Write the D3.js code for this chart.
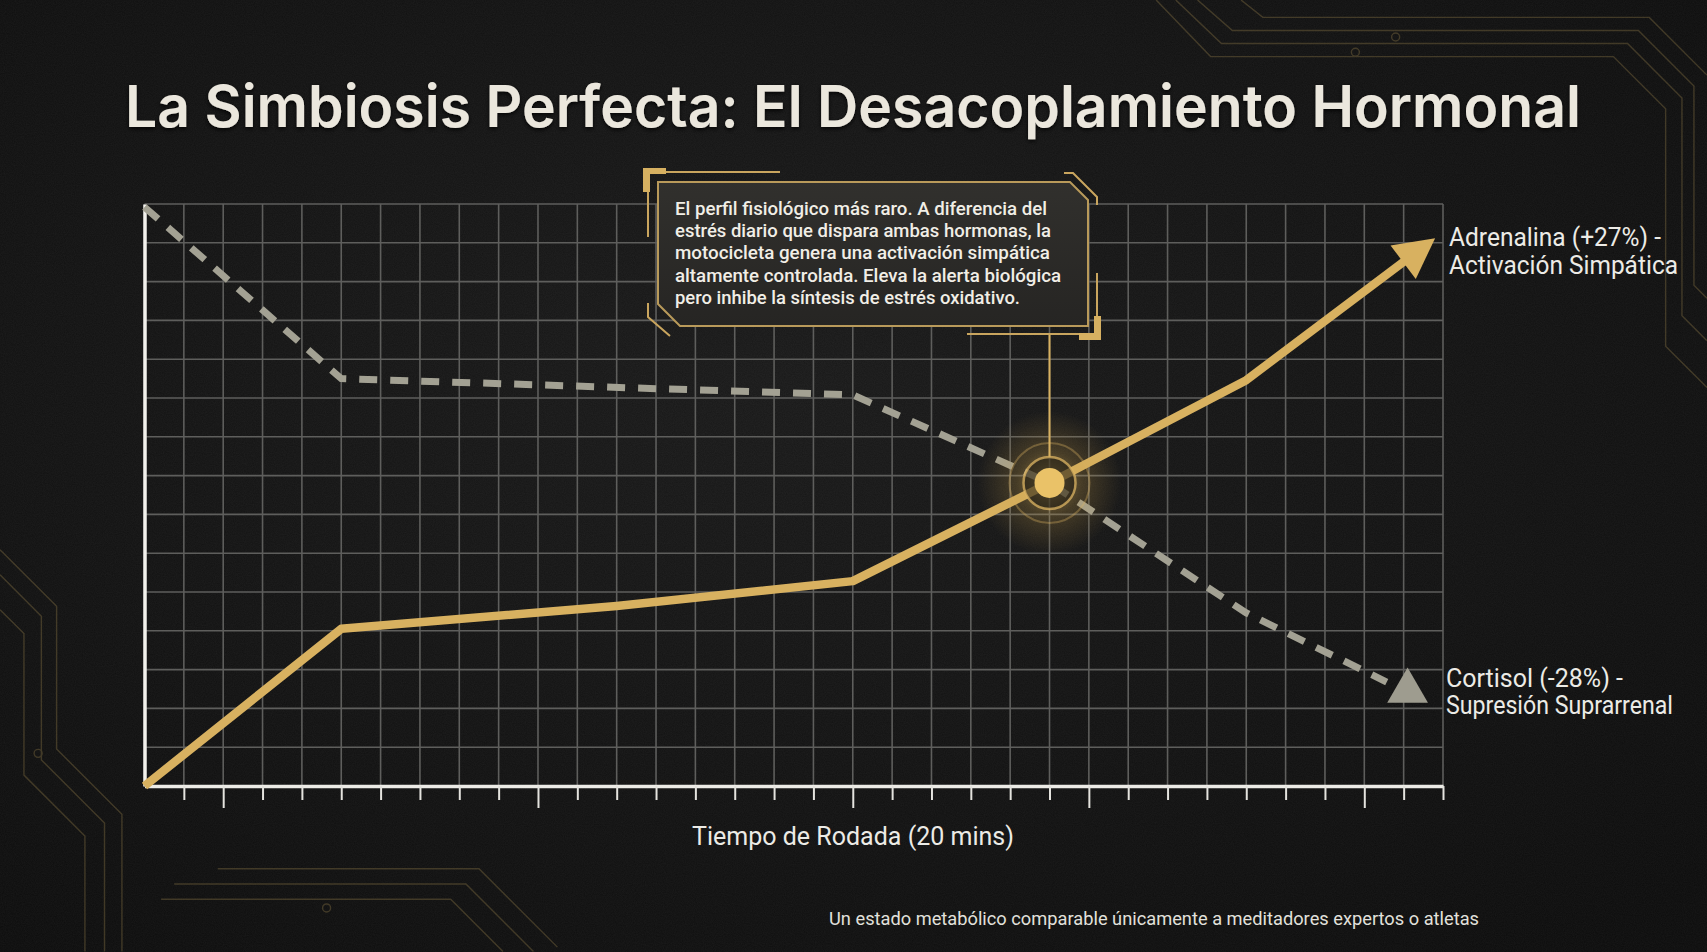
<!DOCTYPE html>
<html>
<head>
<meta charset="utf-8">
<script src="https://cdn.jsdelivr.net/npm/d3@7"></script>
<style>
  html, body { margin: 0; padding: 0; background: #111111; overflow: hidden; }
  svg { display: block; }
</style>
</head>
<body>
<svg id="chart"></svg>
<script>
const W = 1707, H = 952;

// x in time steps (33 steps across the 20 min ride), y in grid levels (0-15)
const xTicks = d3.range(1, 34);
const majorTicks = [2, 10, 18, 24, 31];
const gridCols = d3.range(0, 34);
const gridRows = d3.range(0, 16);

const adrenalinaX = [0, 5, 12, 18, 23, 28, 32.8];
const adrenalinaY = [0, 4.05, 4.64, 5.28, 7.81, 10.46, 14.12];
const cortisolX = [0, 5, 18, 23, 28, 31.57];
const cortisolY = [14.92, 10.5, 10.08, 7.81, 4.46, 2.68];
const cortisolTip = [32.1, 2.45];
const crossing = [23, 7.81];

const title = "La Simbiosis Perfecta: El Desacoplamiento Hormonal";
const xLabel = "Tiempo de Rodada (20 mins)";
const noteLines = [
  "El perfil fisiológico más raro. A diferencia del",
  "estrés diario que dispara ambas hormonas, la",
  "motocicleta genera una activación simpática",
  "altamente controlada. Eleva la alerta biológica",
  "pero inhibe la síntesis de estrés oxidativo."
];
const adrLabel = ["Adrenalina (+27%) -", "Activación Simpática"];
const corLabel = ["Cortisol (-28%) -", "Supresión Suprarrenal"];
const footnote = "Un estado metabólico comparable únicamente a meditadores expertos o atletas";

const gold = "#d8b160";
const grey = "#a3a193";

const svg = d3.select("#chart").attr("width", W).attr("height", H);
const defs = svg.append("defs");

// background
const bg = defs.append("radialGradient").attr("id", "bg")
  .attr("cx", "45%").attr("cy", "40%").attr("r", "75%");
bg.append("stop").attr("offset", "0%").attr("stop-color", "#191919");
bg.append("stop").attr("offset", "100%").attr("stop-color", "#0c0c0c");

const noise = defs.append("filter").attr("id", "noise");
noise.append("feTurbulence").attr("type", "fractalNoise")
  .attr("baseFrequency", 0.9).attr("numOctaves", 2).attr("seed", 3);
noise.append("feColorMatrix").attr("type", "matrix")
  .attr("values", "0 0 0 0 1  0 0 0 0 1  0 0 0 0 1  0 0 0 0.05 0");

const glow = defs.append("radialGradient").attr("id", "glow");
glow.append("stop").attr("offset", "0%").attr("stop-color", "#f0c566").attr("stop-opacity", 0.6);
glow.append("stop").attr("offset", "45%").attr("stop-color", "#c9a04a").attr("stop-opacity", 0.25);
glow.append("stop").attr("offset", "100%").attr("stop-color", "#c9a04a").attr("stop-opacity", 0);

const boxFill = defs.append("linearGradient").attr("id", "boxFill")
  .attr("x1", 0).attr("y1", 0).attr("x2", 0).attr("y2", 1);
boxFill.append("stop").attr("offset", "0%").attr("stop-color", "#31302d");
boxFill.append("stop").attr("offset", "100%").attr("stop-color", "#262523");

const shadow = defs.append("filter").attr("id", "shadow")
  .attr("x", "-5%").attr("y", "-20%").attr("width", "110%").attr("height", "140%");
shadow.append("feDropShadow").attr("dx", 0).attr("dy", 2).attr("stdDeviation", 2)
  .attr("flood-color", "#000").attr("flood-opacity", 0.8);

svg.append("rect").attr("width", W).attr("height", H).attr("fill", "url(#bg)");
svg.append("rect").attr("width", W).attr("height", H).attr("filter", "url(#noise)");

// circuit decorations (drawn in 1568-wide design units)
const S = W / 1568;
const circuits = [
  [[1080,0],[1122,40],[1495,40],[1545,90],[1545,290],[1568,313]],
  [[1100,0],[1132,28],[1505,28],[1556,79],[1556,262],[1568,274]],
  [[1062,0],[1112,52],[1482,52],[1530,100],[1530,318],[1568,356]],
  [[1140,0],[1160,16],[1515,16],[1568,69]],
  [[0,505],[52,557],[52,688],[112,748],[112,874]],
  [[0,528],[38,566],[38,698],[96,756],[96,874]],
  [[0,560],[22,582],[22,712],[78,768],[78,874]],
  [[160,812],[428,812],[490,874]],
  [[148,826],[414,826],[462,874]],
  [[200,798],[440,798],[512,870]]
];
const deco = svg.append("g").attr("fill", "none").attr("stroke", "#8c7746")
  .attr("stroke-width", 1.4).attr("opacity", 0.38);
deco.selectAll("path").data(circuits).join("path")
  .attr("d", d => d3.line()(d.map(p => [p[0] * S, p[1] * S])));
deco.selectAll("circle").data([[1245,48],[1282,34],[35,692],[300,834]]).join("circle")
  .attr("cx", d => d[0] * S).attr("cy", d => d[1] * S).attr("r", 4);

// scales
const x = d3.scaleLinear().domain([0, 33]).range([144.5, 1443]);
const y = d3.scaleLinear().domain([0, 15]).range([786, 204]);

// grid
const grid = svg.append("g").attr("stroke", "#5e5e5c").attr("stroke-width", 1.6);
grid.selectAll(".gx").data(gridCols).join("line").attr("class", "gx")
  .attr("x1", d => x(d)).attr("x2", d => x(d)).attr("y1", y(0)).attr("y2", y(15));
grid.selectAll(".gy").data(gridRows).join("line").attr("class", "gy")
  .attr("x1", x(0)).attr("x2", x(33)).attr("y1", d => y(d)).attr("y2", d => y(d));

// axes
const xAxis = svg.append("g").attr("transform", `translate(0,${y(0)})`)
  .call(d3.axisBottom(x).tickValues(xTicks).tickSize(14).tickSizeOuter(0).tickFormat(""));
xAxis.select(".domain").attr("stroke", "#ecebe6").attr("stroke-width", 3.5);
xAxis.selectAll(".tick line").attr("stroke", "#e4e3de").attr("stroke-width", 2)
  .attr("y2", d => majorTicks.includes(d) ? 22 : 14);

const yAxis = svg.append("g").attr("transform", `translate(${x(0)},0)`)
  .call(d3.axisLeft(y).tickValues([]).tickSizeOuter(0));
yAxis.select(".domain").attr("stroke", "#f2f1ec").attr("stroke-width", 3.5);

// cortisol (dashed)
const line = d3.line().x(d => x(d[0])).y(d => y(d[1]));
const cortisol = cortisolX.map((v, i) => [v, cortisolY[i]]);
svg.append("path").datum(cortisol)
  .attr("d", line).attr("fill", "none").attr("stroke", grey)
  .attr("stroke-width", 7).attr("stroke-dasharray", "18 13");
svg.append("path")
  .attr("d", d3.symbol(d3.symbolTriangle).size(720)())
  .attr("transform", `translate(${x(cortisolTip[0])},${y(cortisolTip[1])})`)
  .attr("fill", "#9e9c8f");

// adrenalina (solid with arrowhead)
const adrPx = adrenalinaX.map((v, i) => [x(v), y(adrenalinaY[i])]);
const tip = adrPx[adrPx.length - 1];
const prev = adrPx[adrPx.length - 2];
const ang = Math.atan2(tip[1] - prev[1], tip[0] - prev[0]);
const headLen = 40, headHalf = 21;
const base = [tip[0] - headLen * Math.cos(ang), tip[1] - headLen * Math.sin(ang)];
const adrLine = adrPx.slice(0, -1).concat([[tip[0] - 30 * Math.cos(ang), tip[1] - 30 * Math.sin(ang)]]);
svg.append("path").datum(adrLine)
  .attr("d", d3.line()).attr("fill", "none").attr("stroke", gold)
  .attr("stroke-width", 8.5).attr("stroke-linejoin", "round");
svg.append("path")
  .attr("d", d3.line()([
    tip,
    [base[0] + headHalf * Math.sin(ang), base[1] - headHalf * Math.cos(ang)],
    [base[0] - headHalf * Math.sin(ang), base[1] + headHalf * Math.cos(ang)]
  ]) + "Z")
  .attr("fill", gold);

// crossing marker
const cx = x(crossing[0]), cy = y(crossing[1]);
svg.append("circle").attr("cx", cx).attr("cy", cy).attr("r", 72).attr("fill", "url(#glow)");
svg.append("circle").attr("cx", cx).attr("cy", cy).attr("r", 40)
  .attr("fill", "none").attr("stroke", "#d9b160").attr("stroke-opacity", 0.35).attr("stroke-width", 2);
svg.append("circle").attr("cx", cx).attr("cy", cy).attr("r", 26)
  .attr("fill", "#1a1712").attr("fill-opacity", 0.55)
  .attr("stroke", "#dcb463").attr("stroke-opacity", 0.75).attr("stroke-width", 2.5);
svg.append("circle").attr("cx", cx).attr("cy", cy).attr("r", 15).attr("fill", "#eac268");

// callout
const box = { l: 658, t: 182, r: 1088, b: 326 };
svg.append("line").attr("x1", cx).attr("x2", cx).attr("y1", box.b + 8).attr("y2", cy - 26)
  .attr("stroke", gold).attr("stroke-width", 2);
svg.append("path")
  .attr("d", `M${box.l},${box.t}H${box.r - 18}L${box.r},${box.t + 18}V${box.b}H${box.l + 22}L${box.l},${box.b - 22}Z`)
  .attr("fill", "url(#boxFill)").attr("stroke", "#b99a5a").attr("stroke-width", 2);
const brackets = svg.append("g").attr("fill", "none").attr("stroke", "#c9a55e").attr("stroke-width", 2);
brackets.append("path").attr("d", "M648,237V172H780");
brackets.append("path").attr("d", "M1064,173H1073L1097,197V205");
brackets.append("path").attr("d", "M1097,273V334H967");
brackets.append("path").attr("d", "M648,303V317L670,336");
svg.append("path").attr("d", "M643,168H666V174H650V192H643Z").attr("fill", "#d6b061");
svg.append("path").attr("d", "M1101,316V340H1079V333H1094V316Z").attr("fill", "#d6b061");

const noteWidths = [372, 376, 375, 386, 345];
svg.append("g").selectAll("text").data(noteLines).join("text")
  .attr("x", 675).attr("y", (d, i) => 215 + i * 22.2)
  .attr("textLength", (d, i) => noteWidths[i]).attr("lengthAdjust", "spacingAndGlyphs")
  .attr("font-family", "Roboto, sans-serif").attr("font-weight", 500).attr("font-size", 19)
  .attr("fill", "#f1eee6").text(d => d);

// title
svg.append("text").attr("x", 125).attr("y", 127)
  .attr("textLength", 1456).attr("lengthAdjust", "spacingAndGlyphs")
  .attr("font-family", "Inter, sans-serif").attr("font-weight", 600).attr("font-size", 58)
  .attr("fill", "#ebe7dd").attr("filter", "url(#shadow)").text(title);

// series labels
const labelStyle = sel => sel
  .attr("font-family", "Roboto, sans-serif").attr("font-size", 25)
  .attr("fill", "#ecebe6").attr("lengthAdjust", "spacingAndGlyphs");
svg.append("g").selectAll("text").data(adrLabel).join("text")
  .attr("x", 1449).attr("y", (d, i) => 246 + i * 28)
  .attr("textLength", (d, i) => [212, 229][i]).call(labelStyle).text(d => d);
svg.append("g").selectAll("text").data(corLabel).join("text")
  .attr("x", 1446).attr("y", (d, i) => 687 + i * 27)
  .attr("textLength", (d, i) => [177, 227][i]).call(labelStyle).text(d => d);

// axis title and footnote
svg.append("text").attr("x", 853).attr("y", 845).attr("text-anchor", "middle")
  .attr("textLength", 322).attr("lengthAdjust", "spacingAndGlyphs")
  .attr("font-family", "Roboto, sans-serif").attr("font-size", 26)
  .attr("fill", "#ecebe6").text(xLabel);
svg.append("text").attr("x", 829).attr("y", 925)
  .attr("textLength", 650).attr("lengthAdjust", "spacingAndGlyphs")
  .attr("font-family", "Roboto, sans-serif").attr("font-size", 18.5)
  .attr("fill", "#e2e1dc").text(footnote);
</script>
</body>
</html>
